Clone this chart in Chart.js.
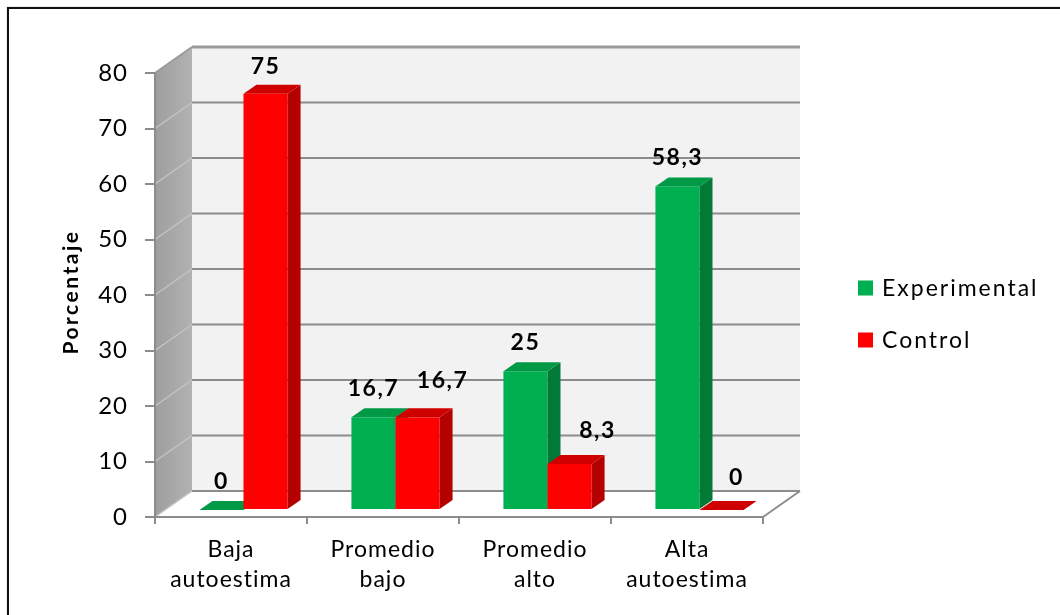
<!DOCTYPE html>
<html>
<head>
<meta charset="utf-8">
<title>Autoestima</title>
<script src="https://cdn.jsdelivr.net/npm/chart.js@4.4.1/dist/chart.umd.min.js"></script>
<style>
  html, body { margin: 0; padding: 0; background: #fff; overflow: hidden; }
  #wrap { position: relative; width: 1060px; height: 615px; }
  #frame { position: absolute; left: 7px; top: 7px; width: 1100px; height: 700px;
           border: 2px solid #111; box-shadow: 0 0 1px #888; box-sizing: border-box; }
  canvas { position: absolute; left: 0; top: 0; }
</style>
</head>
<body>
<div id="wrap">
  <div id="frame"></div>
  <canvas id="chart" width="1060" height="615"></canvas>
</div>
<script>
// ---- data ----
const categories = [['Baja', 'autoestima'], ['Promedio', 'bajo'], ['Promedio', 'alto'], ['Alta', 'autoestima']];
const seriesNames = ['Experimental', 'Control'];
const experimental = [0, 16.7, 25, 58.3];
const control = [75, 16.7, 8.3, 0];
const yTickValues = [0, 10, 20, 30, 40, 50, 60, 70, 80];
const axisTitle = 'Porcentaje';

// ---- 3D projection settings ----
const WALL = { dx: 37, dy: -26 };                  // depth of the floor and side wall
const BAR = { ox: 12.5, oy: -7, dx: 13, dy: -9 };  // bar front-plane shift and bar depth

const fmt = v => String(v).replace('.', ',');

function poly(ctx, pts, fill) {
  ctx.beginPath();
  ctx.moveTo(pts[0][0], pts[0][1]);
  for (let i = 1; i < pts.length; i++) ctx.lineTo(pts[i][0], pts[i][1]);
  ctx.closePath();
  ctx.fillStyle = fill;
  ctx.fill();
}

const box3d = {
  id: 'box3d',
  beforeDraw(chart) {
    const { ctx, chartArea: a, scales: { y } } = chart;
    const L = a.left, R = a.right;
    const T = y.getPixelForValue(yTickValues[yTickValues.length - 1]);
    const B = y.getPixelForValue(0);
    const dx = WALL.dx, dy = WALL.dy;
    ctx.save();
    // back wall
    ctx.fillStyle = '#f2f2f2';
    ctx.fillRect(L + dx, T + dy, R - L, B - T);
    // side wall
    const g = ctx.createLinearGradient(L, 0, L + dx, 0);
    g.addColorStop(0, '#9e9e9e');
    g.addColorStop(1, '#b2b2b2');
    poly(ctx, [[L, B], [L, T], [L + dx, T + dy], [L + dx, B + dy]], g);
    // floor
    poly(ctx, [[L, B], [R, B], [R + dx, B + dy], [L + dx, B + dy]], '#ffffff');

    // grid lines on the back wall and the side wall
    yTickValues.forEach(v => {
      const yy = y.getPixelForValue(v);
      const top = v === yTickValues[yTickValues.length - 1];
      ctx.strokeStyle = '#c4c4c4';
      ctx.lineWidth = 1.5;
      ctx.beginPath();
      ctx.moveTo(L, yy);
      ctx.lineTo(L + dx, yy + dy);
      ctx.stroke();
      ctx.strokeStyle = top ? '#9a9a9a' : '#8c8c8c';
      ctx.lineWidth = top ? 3 : 2;
      ctx.beginPath();
      ctx.moveTo(L + dx, yy + dy);
      ctx.lineTo(R + dx, yy + dy);
      ctx.stroke();
    });
    // floor edge and side-wall top edge
    ctx.strokeStyle = '#8c8c8c';
    ctx.lineWidth = 2;
    ctx.beginPath();
    ctx.moveTo(R, B);
    ctx.lineTo(R + dx, B + dy);
    ctx.stroke();
    ctx.strokeStyle = '#9a9a9a';
    ctx.beginPath();
    ctx.moveTo(L, T);
    ctx.lineTo(L + dx, T + dy);
    ctx.stroke();
    ctx.restore();
    ctx.letterSpacing = '1px';
  },
  beforeDatasetsDraw(chart) {
    const { ctx } = chart;
    ctx.save();
    chart.data.datasets.forEach((ds, di) => {
      const meta = chart.getDatasetMeta(di);
      meta.data.forEach(el => {
        const p = el.getProps(['x', 'y', 'base', 'width'], true);
        const xl = p.x - p.width / 2 + BAR.ox, xr = p.x + p.width / 2 + BAR.ox;
        const yt = p.y + BAR.oy, yb = p.base + BAR.oy;
        const ddx = BAR.dx, ddy = BAR.dy;
        if (yb - yt > 0.5) {
          ctx.fillStyle = ds.backgroundColor;
          ctx.fillRect(xl, yt, xr - xl, yb - yt);
          poly(ctx, [[xr, yt], [xr + ddx, yt + ddy], [xr + ddx, yb + ddy], [xr, yb]], ds.sideColor);
        }
        poly(ctx, [[xl, yt], [xl + ddx, yt + ddy], [xr + ddx, yt + ddy], [xr, yt]], ds.topColor);
      });
    });
    ctx.restore();
    return false;
  },
  afterDraw(chart, args, opts) {
    const { ctx, chartArea: a } = chart;
    ctx.save();
    // value labels
    ctx.font = 'bold 23px Lato';
    ctx.letterSpacing = '1.5px';
    ctx.fillStyle = '#000';
    ctx.textAlign = 'center';
    ctx.textBaseline = 'alphabetic';
    chart.data.datasets.forEach((ds, di) => {
      const meta = chart.getDatasetMeta(di);
      meta.data.forEach((el, i) => {
        const p = el.getProps(['x', 'y'], true);
        const n = opts.nudge[di][i];
        ctx.fillText(fmt(ds.data[i]), p.x + BAR.ox + n[0], p.y + BAR.oy - 21 + n[1]);
      });
    });
    // axis title
    ctx.save();
    ctx.translate(71, (a.top + a.bottom) / 2 - 2);
    ctx.rotate(-Math.PI / 2);
    ctx.font = 'bold 21px Lato';
    ctx.letterSpacing = '2.5px';
    ctx.textBaseline = 'middle';
    ctx.fillText(axisTitle, 1, 0);
    ctx.restore();
    // legend
    ctx.font = '23px Lato';
    ctx.letterSpacing = '2px';
    ctx.textAlign = 'left';
    ctx.textBaseline = 'middle';
    chart.data.datasets.forEach((ds, di) => {
      const cy = 288 + di * 52;
      ctx.fillStyle = ds.backgroundColor;
      ctx.fillRect(858, cy - 7.5, 15, 15);
      ctx.fillStyle = '#000';
      ctx.fillText(ds.label, 882, cy + 1);
    });
    ctx.restore();
  }
};

function build() {
  Chart.defaults.font.family = 'Lato';
  new Chart(document.getElementById('chart'), {
    type: 'bar',
    data: {
      labels: categories,
      datasets: [
        { label: seriesNames[0], data: experimental,
          backgroundColor: '#00b050', sideColor: '#007a36', topColor: '#009a46' },
        { label: seriesNames[1], data: control,
          backgroundColor: '#ff0000', sideColor: '#b50000', topColor: '#cf0000' }
      ]
    },
    options: {
      responsive: false,
      animation: false,
      events: [],
      layout: { padding: { left: 60, right: 297, top: 73, bottom: 8 } },
      datasets: { bar: { categoryPercentage: 0.58, barPercentage: 1.0 } },
      scales: {
        x: {
          ticks: { padding: 10, color: '#000', maxRotation: 0, autoSkip: false,
                   font: { size: 23, lineHeight: 1.32 } },
          grid: { drawOnChartArea: false, tickLength: 7, color: '#8c8c8c', lineWidth: 2, offset: true },
          border: { color: '#8c8c8c', width: 2 },
          afterFit(s) { s.height = 90; }
        },
        y: {
          min: 0, max: 80,
          afterBuildTicks(s) { s.ticks = yTickValues.map(v => ({ value: v })); },
          ticks: { padding: 17, color: '#000', font: { size: 24 } },
          grid: { drawOnChartArea: false, tickLength: 10, color: '#8c8c8c', lineWidth: 2 },
          border: { color: '#8c8c8c', width: 2 },
          afterFit(s) { s.width = 95; }
        }
      },
      plugins: {
        legend: { display: false },
        tooltip: { enabled: false },
        box3d: { nudge: [[[0, 0], [0, 0], [0, 0], [0, 0]],
                         [[0, 1], [25, -8], [28, -5], [15, -4]]] }
      }
    },
    plugins: [box3d]
  });
}

Promise.all([document.fonts.load('22px Lato'), document.fonts.load('bold 22px Lato')])
  .then(build, build);
</script>
</body>
</html>
